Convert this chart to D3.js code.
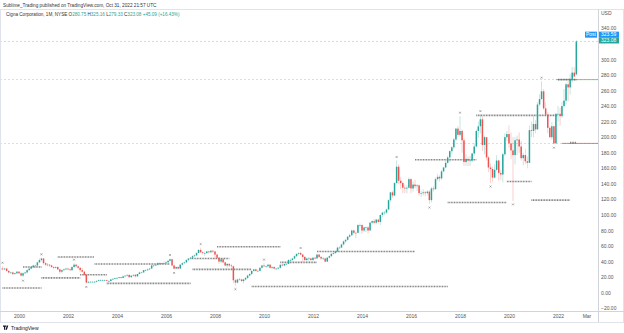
<!DOCTYPE html>
<html><head><meta charset="utf-8">
<script src="https://cdn.jsdelivr.net/npm/d3@7"></script>
<style>
html,body{margin:0;padding:0;background:#fff;}
svg{display:block;font-family:"Liberation Sans",Arial,sans-serif;}
</style></head>
<body><svg id="c" width="624" height="333"></svg>
<script>
// ---------- DATA (monthly candles, Apr 1999 .. Oct 2022) ----------
const firstMonth = "1999-04";
const open = [
 30,31,30,31,28,26,26,24,25,
 27,25,22,25,26,29,31,33,35,35,39,42,
 44,38,36,36,35,33,32,33,30,27,29,30,
 31,30,29,33,36,34,32,29,27,23,13,14,
 14,14,14,15,16,16,16,16,15,15,17,18,
 19,19,20,19,21,22,23,20,22,23,21,24,
 26,26,29,29,30,31,35,35,36,38,37,38,
 38,39,41,43,35,31,33,31,36,38,39,42,
 44,45,47,48,51,55,52,51,51,53,52,54,
 53,49,45,40,43,39,35,37,35,34,16,13,
 17,17,15,17,19,22,24,28,30,28,28,32,
 35,34,34,36,32,33,31,31,32,36,35,37,
 37,42,42,44,47,50,51,49,46,42,44,44,
 42,45,44,49,46,44,44,40,45,47,50,51,
 53,58,58,62,66,68,72,74,80,77,77,87,
 87,80,84,84,80,90,92,90,94,91,100,103,
 103,107,119,129,125,141,162,144,141,135,134,135,
 146,134,139,137,138,128,128,129,128,130,119,134,
 133,146,149,147,156,161,167,174,182,187,197,211,
 203,208,196,168,172,170,170,179,188,208,214,223,
 190,200,174,161,159,148,158,170,154,152,178,200,
 204,192,183,177,196,197,188,173,177,169,167,209,
 208,217,210,242,249,259,237,229,212,200,214,192,
 230,230,227,240,247,268,264,275,283,280.75
];
const high = [
 32,34,32,32,29,27,27,26,28,
 28,26,26,27,30,32,34,36,36,40,44,45,
 44,39,38,37,36,34,34,34,31,30,31,32,
 32,31,34,38,37,35,33,32,28,24,15,15,
 15,15,16,17,17,17,17,17,16,18,18,19,
 20,20,20,22,22,23,23,22,23,24,24,27,
 27,29,30,31,32,36,36,37,39,39,38,40,
 41,42,44,44,36,34,34,37,39,40,43,44,
 46,48,49,52,56,58,53,53,54,54,55,55,
 54,50,46,44,44,40,38,38,37,35,18,18,
 19,18,18,20,23,25,29,31,31,30,33,36,
 38,35,37,37,34,34,32,33,36,37,37,38,
 43,44,45,48,50,52,53,50,47,45,46,45,
 46,46,50,50,47,46,45,46,48,51,52,54,
 59,60,63,67,69,73,76,81,81,78,88,89,
 88,84,85,85,91,93,95,95,95,100,104,105,
 108,120,130,131,142,170,165,149,143,139,138,148,
 147,143,145,140,139,131,133,131,132,132,136,137,
 148,153,151,158,162,170,176,183,188,199,212,214,
 227,210,199,178,175,176,180,192,210,220,229,227,
 202,200,176,166,162,165,177,171,158,180,205,208,
 215,206,200,200,202,206,195,180,185,175,215,220,
 227,222,245,255,272,262,245,232,214,219,215,231,
 240,238,245,262,270,272,281,290,290,325.16
];
const low = [
 28,29,29,27,25,24,22,23,24,
 24,21,20,24,25,28,30,32,32,33,38,40,
 36,34,34,33,32,30,31,29,24,25,28,29,
 29,28,28,32,32,30,26,26,22,12,12,13,
 13,13,13,15,15,15,15,15,14,15,16,17,
 17,18,18,19,20,21,19,19,21,20,21,24,
 25,26,28,28,29,31,33,34,35,36,36,37,
 37,38,40,34,30,30,30,31,35,37,38,41,
 43,44,46,47,51,51,49,47,50,50,51,51,
 43,44,37,38,38,34,32,33,30,12,9,12,
 16,14,12,16,18,21,23,27,27,27,28,31,
 33,32,33,31,30,30,29,30,31,34,34,36,
 37,40,41,43,46,48,48,40,41,40,41,41,
 41,43,44,45,42,42,39,40,44,46,49,50,
 53,56,58,61,64,67,71,73,75,70,77,84,
 76,78,78,76,80,88,88,88,89,87,97,100,
 101,106,117,122,124,140,140,133,128,128,128,134,
 128,130,134,131,125,123,125,124,125,114,116,130,
 133,144,143,145,155,160,166,168,178,185,195,200,
 201,180,163,163,163,163,168,176,187,199,205,182,
 178,170,155,141,143,147,156,144,145,142,176,195,
 186,172,118,165,177,180,170,164,165,160,167,200,
 200,205,210,240,248,235,228,205,199,197,191,192,
 220,215,225,238,242,246,255,270,277,279.33
];
const close = [
 31,30,31,28,26,26,24,25,27,
 25,22,25,26,29,31,33,35,35,39,42,44,
 38,36,36,35,33,32,33,30,27,29,30,31,
 30,29,33,36,34,32,29,27,23,13,14,14,
 14,14,15,16,16,16,16,15,15,17,18,19,
 19,20,19,21,22,23,20,22,23,21,24,26,
 26,29,29,30,31,35,35,36,38,37,38,38,
 39,41,43,35,31,33,31,36,38,39,42,44,
 45,47,48,51,55,52,51,51,53,52,54,53,
 49,45,40,43,39,35,37,35,34,16,13,17,
 17,15,17,19,22,24,28,30,28,28,32,35,
 34,34,36,32,33,31,31,32,36,35,37,37,
 42,42,44,47,50,51,49,46,42,44,44,42,
 45,44,49,46,44,44,40,45,47,50,51,53,
 58,58,62,66,68,72,74,80,77,77,87,87,
 80,84,84,80,90,92,90,94,91,100,103,103,
 107,119,129,125,141,162,144,141,135,134,135,146,
 134,139,137,138,128,128,129,128,130,119,134,133,
 146,149,147,156,161,167,174,182,187,197,211,203,
 208,196,168,172,170,170,179,188,208,214,223,190,
 200,174,161,159,148,158,170,154,152,178,200,204,
 192,183,177,196,197,188,173,177,169,167,209,208,
 217,210,242,249,259,237,229,212,200,214,192,230,
 230,227,240,247,268,264,275,283,278,323.08
];
// pivot markers
const pivotDates  = ["1999-05","2000-12","2002-04","2006-03","2007-06","2010-01","2011-07","2015-06","2018-01","2018-11","2021-05",
                     "2000-03","2002-10","2006-05","2008-11","2016-10","2019-04","2020-03","2021-11"];
const pivotPrices = [34,45,38,44,58,38,53,170,227,229,272, 20,12,30,9,114,141,118,191];
const pivotSide   = ["h","h","h","h","h","h","h","h","h","h","h","l","l","l","l","l","l","l","l"];
// dotted level segments
const levelStart = ["1999-05","2000-03","2000-12","2001-08","2002-07","2003-02","2003-08","2007-01","2007-02","2008-02",
                    "2009-07","2010-09","2012-03","2016-03","2017-07","2018-09","2019-12","2020-12","2022-01","2022-07"];
const levelEnd   = ["2000-12","2000-12","2002-07","2003-02","2003-08","2006-03","2007-01","2008-08","2009-07","2010-09",
                    "2017-07","2012-03","2016-03","2018-09","2019-12","2022-01","2020-12","2022-07","2022-10","2022-10"];
const levelPrice = [6,33,19,46,23,37,12,44,30,59,8,39,53,171,116,228,143,119,274,193];
// axis ticks
const yTicks = [-20,0,20,40,60,80,100,120,140,160,180,200,220,240,260,280,300,340];
const xTickYears = [2000,2002,2004,2006,2008,2010,2012,2014,2016,2018,2020,2022];
const xExtraTick = {date:"2023-03", label:"Mar"};
const supportPrice = 192, resistPrice = 274, lastPrice = 323.08, postPrice = 323.59;

// ---------- DRAW ----------
const UP="#26a69a", DN="#ef5350";
const parseM = d3.timeParse("%Y-%m");
const months = d3.timeMonth.range(parseM(firstMonth), d3.timeMonth.offset(parseM(firstMonth), close.length));
const bars = months.map((d,i)=>({d,o:open[i],h:high[i],l:low[i],c:close[i]}));

const svg = d3.select("#c");
const plotR = 598, plotT = 9, plotB = 311;
const x = d3.scaleTime().domain([new Date(2000,0,1), new Date(2022,0,1)]).range([19,558]);
const y = d3.scaleLinear().domain([0,340]).range([292.7,28.3]);

// top caption
svg.append("text").attr("x",3).attr("y",6.5).attr("font-size",4.7).attr("fill","#333")
  .text("Sublime_Trading published on TradingView.com, Oct 31, 2022 21:57 UTC");
// frame
svg.append("rect").attr("x",0.5).attr("y",plotT+0.5).attr("width",623).attr("height",322-plotT)
  .attr("fill","none").attr("stroke","#e0e3eb");

svg.append("clipPath").attr("id","clip").append("rect").attr("x",1).attr("y",plotT+1).attr("width",plotR-1).attr("height",plotB-plotT-1);
const g = svg.append("g").attr("clip-path","url(#clip)");

// full-width faint level lines
g.append("line").attr("x1",0).attr("x2",plotR).attr("y1",y(resistPrice)).attr("y2",y(resistPrice))
  .attr("stroke","#66bb6a").attr("stroke-width",0.6).attr("stroke-dasharray","2,2").attr("opacity",0.6);
g.append("line").attr("x1",0).attr("x2",plotR).attr("y1",y(supportPrice)).attr("y2",y(supportPrice))
  .attr("stroke","#ef5350").attr("stroke-width",0.6).attr("stroke-dasharray","2,2").attr("opacity",0.5);
g.append("line").attr("x1",0).attr("x2",plotR).attr("y1",y(lastPrice)).attr("y2",y(lastPrice))
  .attr("stroke","#90caf9").attr("stroke-width",0.6).attr("stroke-dasharray","2,2");
// solid parts near the end
g.append("line").attr("x1",x(parseM("2021-12"))).attr("x2",plotR).attr("y1",y(resistPrice)).attr("y2",y(resistPrice))
  .attr("stroke","#66bb6a").attr("stroke-width",0.8);
g.append("line").attr("x1",x(parseM("2022-03"))).attr("x2",plotR).attr("y1",y(supportPrice)).attr("y2",y(supportPrice))
  .attr("stroke","#ef5350").attr("stroke-width",0.8);

// dotted levels
levelPrice.forEach((p,i)=>{
  g.append("line").attr("x1",x(parseM(levelStart[i]))).attr("x2",x(parseM(levelEnd[i])))
   .attr("y1",y(p)).attr("y2",y(p)).attr("stroke","#555").attr("stroke-width",1.6)
   .attr("stroke-dasharray","0.9,0.7").attr("opacity",0.8);
});

// candles
const bw = 1.5;
const cg = g.append("g");
cg.selectAll("line.w").data(bars).join("line").attr("class","w")
  .attr("x1",d=>x(d.d)).attr("x2",d=>x(d.d)).attr("y1",d=>y(d.h)).attr("y2",d=>y(d.l))
  .attr("stroke",d=>d.c>=d.o?UP:DN).attr("stroke-width",0.6).attr("opacity",0.45);
cg.selectAll("rect.b").data(bars).join("rect").attr("class","b")
  .attr("x",d=>x(d.d)-bw/2).attr("width",bw)
  .attr("y",d=>y(Math.max(d.o,d.c))).attr("height",d=>Math.max(0.6,Math.abs(y(d.o)-y(d.c))))
  .attr("fill",d=>d.c>=d.o?UP:DN);

// pivot markers
pivotDates.forEach((dt,i)=>{
  const cx = x(parseM(dt)), cy = y(pivotPrices[i]) + (pivotSide[i]==="h"?-3.5:3.5);
  g.append("path").attr("d",`M${cx-0.9},${cy-0.9}L${cx+0.9},${cy+0.9}M${cx-0.9},${cy+0.9}L${cx+0.9},${cy-0.9}`)
    .attr("stroke","#777").attr("stroke-width",0.6);
});

// header legend
const hdr = svg.append("text").attr("x",6).attr("y",16).attr("font-size",4.6).attr("fill","#333");
hdr.append("tspan").text("Cigna Corporation, 1M, NYSE ");
[["O","280.75"],["H","325.16"],["L","279.33"],["C","323.08"]].forEach(([k,v])=>{
  hdr.append("tspan").text(" "+k); hdr.append("tspan").attr("fill",UP).text(v);
});
hdr.append("tspan").attr("fill",UP).text(" +45.09 (+16.43%)");

// price scale
svg.append("line").attr("x1",plotR+0.5).attr("x2",plotR+0.5).attr("y1",plotT).attr("y2",322).attr("stroke","#d1d4dc").attr("stroke-width",1);
svg.append("line").attr("x1",0).attr("x2",624).attr("y1",plotB+0.5).attr("y2",plotB+0.5).attr("stroke","#d1d4dc").attr("stroke-width",1);
const ya = svg.append("g").attr("transform",`translate(${plotR+2},0)`)
  .call(d3.axisRight(y).tickValues(yTicks).tickSize(0).tickPadding(1).tickFormat(d3.format(".2f")));
ya.select(".domain").remove();
ya.selectAll("text").attr("font-size",5).attr("fill","#555").attr("font-family","Liberation Sans, Arial, sans-serif");
svg.append("text").attr("x",plotR+3).attr("y",14.5).attr("font-size",5).attr("fill","#555").text("USD");

// price labels
const ly = y(lastPrice);
svg.append("rect").attr("x",plotR+1).attr("y",ly-4).attr("width",20).attr("height",6).attr("fill",UP);
svg.append("text").attr("x",plotR+3).attr("y",ly+0.8).attr("font-size",5).attr("fill","#fff").text(lastPrice.toFixed(2));
const py = ly - 6.5;
svg.append("rect").attr("x",585).attr("y",py-3.3).attr("width",12).attr("height",6).attr("fill","#2196f3");
svg.append("text").attr("x",591).attr("y",py+1.5).attr("font-size",5).attr("fill","#fff").attr("text-anchor","middle").text("Post");
svg.append("rect").attr("x",plotR+1).attr("y",py-3.3).attr("width",20).attr("height",6).attr("fill","#2196f3");
svg.append("text").attr("x",plotR+3).attr("y",py+1.5).attr("font-size",5).attr("fill","#fff").text(postPrice.toFixed(2));

// time axis
const xtv = xTickYears.map(yy=>new Date(yy,0,1)).concat([parseM(xExtraTick.date)]);
const xa = svg.append("g").attr("transform",`translate(0,${plotB+1})`)
  .call(d3.axisBottom(x).tickValues(xtv).tickSize(0).tickPadding(2.5)
    .tickFormat(d=>d.getMonth()===0?d.getFullYear():xExtraTick.label));
xa.select(".domain").remove();
xa.selectAll("text").attr("font-size",5).attr("fill","#555").attr("font-family","Liberation Sans, Arial, sans-serif");

// TradingView logo
svg.append("path").attr("d","M3,325.5h3.2v1.2h-1v3h-1.2v-3h-1z M6.8,325.5h1.5l-1.4,4.2h-1.3z").attr("fill","#131722");
svg.append("text").attr("x",11).attr("y",329.5).attr("font-size",5).attr("fill","#131722").text("TradingView");
</script></body></html>
